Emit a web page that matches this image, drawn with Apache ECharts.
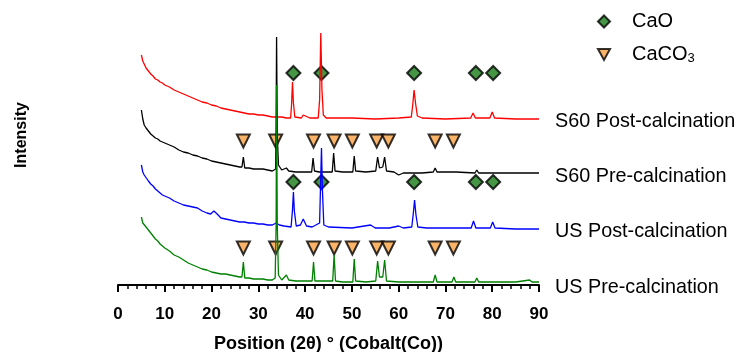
<!DOCTYPE html>
<html>
<head>
<meta charset="utf-8">
<script src="https://cdn.jsdelivr.net/npm/echarts@6/dist/echarts.min.js"></script>
<style>
  html, body { margin: 0; padding: 0; background: #fff; }
  #chart { width: 739px; height: 352px; }
</style>
</head>
<body>
<div id="chart"></div>
<script>
// 2θ tick labels
var xTicks = [0, 10, 20, 30, 40, 50, 60, 70, 80, 90];

// patterns, [2θ, intensity] (offset already included)
var s60Post = [[5,230],[5.3,224],[5.6,221],[6,217],[6.5,214],[7,211],[7.5,209],[8,206],[8.5,205],[9,203],[9.5,202],[10,200],
  [11,198],[12,195],[13,193],[14,191],[15,189],[16,187],[17,185],[18,183],[19,182],[20,180],[21,179],[22,177],[23,176],
  [24,175],[25,174],[26,173],[27,172],[28,171],[29,171],[30,170],[31,170],[32,169],[33,168],[34,168],[35,168],[36,167],
  [36.9,167],[37.1,180],[37.3,203],[37.5,182],[37.8,168],[39.2,167],[39.6,170],[40,168],[41,167],[42.8,167],[43.1,185],
  [43.35,252],[43.6,195],[43.9,170],[44.5,167],[50,167],[55,166],[60,167],[62.7,168],[63,180],[63.3,195],[63.6,182],
  [64,169],[65,167],[70,166],[75.4,167],[75.9,172],[76.4,167],[79.5,167],[80,173],[80.5,167],[85,166],[90,166]];

var s60Pre = [[5,175],[5.3,166],[5.6,160],[6,157],[6.5,154],[7,151],[7.5,149],[8,147],[8.5,146],[9,144],[9.5,143],[10,142],
  [11,140],[12,138],[13,135],[14,133],[15,132],[16,130],[17,129],[18,127],[19,126],[20,124],[21,123],[22,122],[23,121],
  [24,120],[25,119],[26,118],[26.5,118],[26.8,128],[27.1,117],[28,117],[29,116],[30,116],[31,116],[32,115],[33,114],
  [33.7,116],[33.8,160],[33.9,248],[34.05,150],[34.3,120],[35,115],[36,117],[36.5,114],[38,113],[40,113],[41.4,113],
  [41.7,127],[42,114],[43,113],[45.8,113],[46.1,132],[46.4,114],[48,113],[50.2,113],[50.5,129],[50.8,114],[53,113],
  [55.1,114],[55.5,128],[55.9,117],[56.6,118],[57,128],[57.4,114],[59,113],[60,110],[61,112],[65,112],[67.4,113],
  [67.8,117],[68.2,113],[71.4,113],[71.8,115],[72.3,113],[76.3,112],[76.7,115],[77.1,112],[80,112],[85,112],[90,112]];

var usPost = [[5,120],[5.3,113],[5.6,110],[6,108],[6.5,104],[7,101],[7.5,99],[8,96],[8.5,94],[9,92],[9.5,90],[10,89],
  [11,87],[12,84],[13,82],[14,80],[15,79],[16,78],[17,77],[18,74],[19,72],[19.8,71],[20.5,74],[21.2,71],[22,67],[23,66],
  [24,65],[25,64],[26,63],[27,63],[28,62],[29,62],[30,61],[31,61],[32,60],[33,60],[33.8,62],[34.5,60],[35.5,59],[37,58],
  [37.3,75],[37.5,93],[37.7,74],[38.1,59],[39,60],[39.6,66],[40.3,59],[41.5,58],[43.1,62],[43.3,100],[43.5,137],
  [43.7,95],[44,60],[45,58],[50,57],[54,60],[55,57],[58,57],[60,59],[61,57],[62.8,58],[63.1,70],[63.4,85],[63.7,70],
  [64.1,58],[66,57],[70,57],[75.5,57],[76,64],[76.5,57],[79.6,57],[80.1,63],[80.6,57],[85,56],[90,56]];

var usPre = [[5,68],[5.3,62],[5.6,60],[6,58],[6.5,55],[7,52],[7.5,49],[8,46],[8.5,44],[9,41],[9.5,39],[10,37],[11,34],
  [12,30],[13,28],[14,25],[15,22],[16,20],[17,18],[18,16],[19,15],[20,13],[21,12],[22,11],[23,11],[24,10],[25,9],[26,8],
  [26.5,8],[26.8,23],[27.1,7],[28,7],[29,6],[30,6],[31,6],[32,5],[33,5],[33.6,7],[33.8,60],[33.9,200],[34.05,60],
  [34.3,10],[35,5],[36,10],[36.5,5],[38,4],[40,4],[41.5,4],[41.8,23],[42.1,4],[44,4],[45.9,4],[46.2,30],[46.5,4],[48,3],
  [50.2,3],[50.5,26],[50.8,4],[53,3],[55.1,4],[55.5,24],[55.9,8],[56.6,8],[57,25],[57.4,4],[60,3],[65,3],[67.4,3],
  [67.8,10],[68.2,3],[71.4,3],[71.8,8],[72.2,3],[76.3,3],[76.7,7],[77.1,3],[80,3],[85,3],[88,5],[88.5,3],[90,3]];

// phase markers: 2θ positions and the heights of the marker rows
var caoX = [37.5, 43.5, 63.3, 76.5, 80.2];
var caoRows = [212, 103];
var caco3X = [26.8, 33.7, 41.8, 46.2, 50.1, 55.3, 57.8, 67.8, 71.7];
var caco3Rows = [144, 37];

function rowPoints(xs, rows) {
  var out = [];
  rows.forEach(function(r) {
    xs.forEach(function(x) { out.push([x, r]); });
  });
  return out;
}

var font = '"Liberation Sans", Arial, sans-serif';
var downTri = 'path://M0,0 L10,0 L5,9 Z';

function trace(name, data, color, dy) {
  return {
    name: name,
    type: 'line',
    data: data,
    symbol: 'none',
    silent: true,
    z: 3,
    lineStyle: { color: color, width: 1.3 },
    endLabel: {
      show: true,
      formatter: name,
      color: '#000',
      fontFamily: font,
      fontSize: 19.8,
      distance: 16,
      offset: [0, dy]
    }
  };
}

var chart = echarts.init(document.getElementById('chart'));
chart.setOption({
  animation: false,
  backgroundColor: '#fff',
  grid: { left: 118, right: 200, top: 5, bottom: 67, outerBoundsMode: 'none' },
  legend: {
    data: [{ name: 'CaO', icon: 'diamond' }, { name: 'CaCO3', icon: downTri }],
    orient: 'vertical',
    left: 592,
    top: 6,
    itemGap: 11,
    itemWidth: 12,
    itemHeight: 12,
    textStyle: {
      fontFamily: font, fontSize: 20, color: '#000', lineHeight: 21, padding: [0, 0, 0, 17],
      rich: { sub: { fontFamily: font, fontSize: 13, lineHeight: 21, verticalAlign: 'bottom', padding: [9, 0, 0, 0] } }
    },
    formatter: function(n) { return n === 'CaCO3' ? 'CaCO{sub|3}' : n; }
  },
  xAxis: {
    type: 'value',
    min: 0,
    max: 90,
    interval: 10,
    name: 'Position (2θ) ° (Cobalt(Co))',
    nameLocation: 'middle',
    nameGap: 50,
    nameTextStyle: { fontFamily: font, fontSize: 18, fontWeight: 'bold', color: '#000' },
    axisLine: { lineStyle: { color: '#000', width: 2 } },
    axisTick: { show: true, length: 7, lineStyle: { color: '#000', width: 2 } },
    minorTick: { show: true, splitNumber: 5, length: 4, lineStyle: { color: '#000', width: 1.5 } },
    splitLine: { show: false },
    axisLabel: {
      fontFamily: font, fontSize: 17, fontWeight: 'bold', color: '#000', margin: 21,
      formatter: function(v) { return xTicks.indexOf(v) >= 0 ? String(v) : ''; }
    }
  },
  yAxis: { type: 'value', min: 0, max: 280, show: false },
  graphic: [{
    type: 'text',
    x: 22,
    y: 135,
    rotation: Math.PI / 2,
    style: {
      text: 'Intensity',
      fontFamily: font, fontSize: 16, fontWeight: 'bold', fill: '#000',
      align: 'center', verticalAlign: 'middle'
    }
  }],
  series: [
    {
      name: 'CaO',
      type: 'scatter',
      z: 2,
      data: rowPoints(caoX, caoRows),
      symbol: 'diamond',
      symbolSize: 14,
      itemStyle: { color: '#167a16', borderColor: '#000', borderWidth: 2 }
    },
    {
      name: 'CaCO3',
      type: 'scatter',
      z: 2,
      data: rowPoints(caco3X, caco3Rows),
      symbol: 'triangle',
      symbolRotate: 180,
      symbolSize: 13,
      itemStyle: { color: '#f7a145', borderColor: '#000', borderWidth: 2 }
    },
    trace('S60 Post-calcination', s60Post, '#ff0000', 3),
    trace('S60 Pre-calcination', s60Pre, '#000000', 4),
    trace('US Post-calcination', usPost, '#0000ff', 3),
    trace('US Pre-calcination', usPre, '#008000', 6)
  ]
});
</script>
</body>
</html>
